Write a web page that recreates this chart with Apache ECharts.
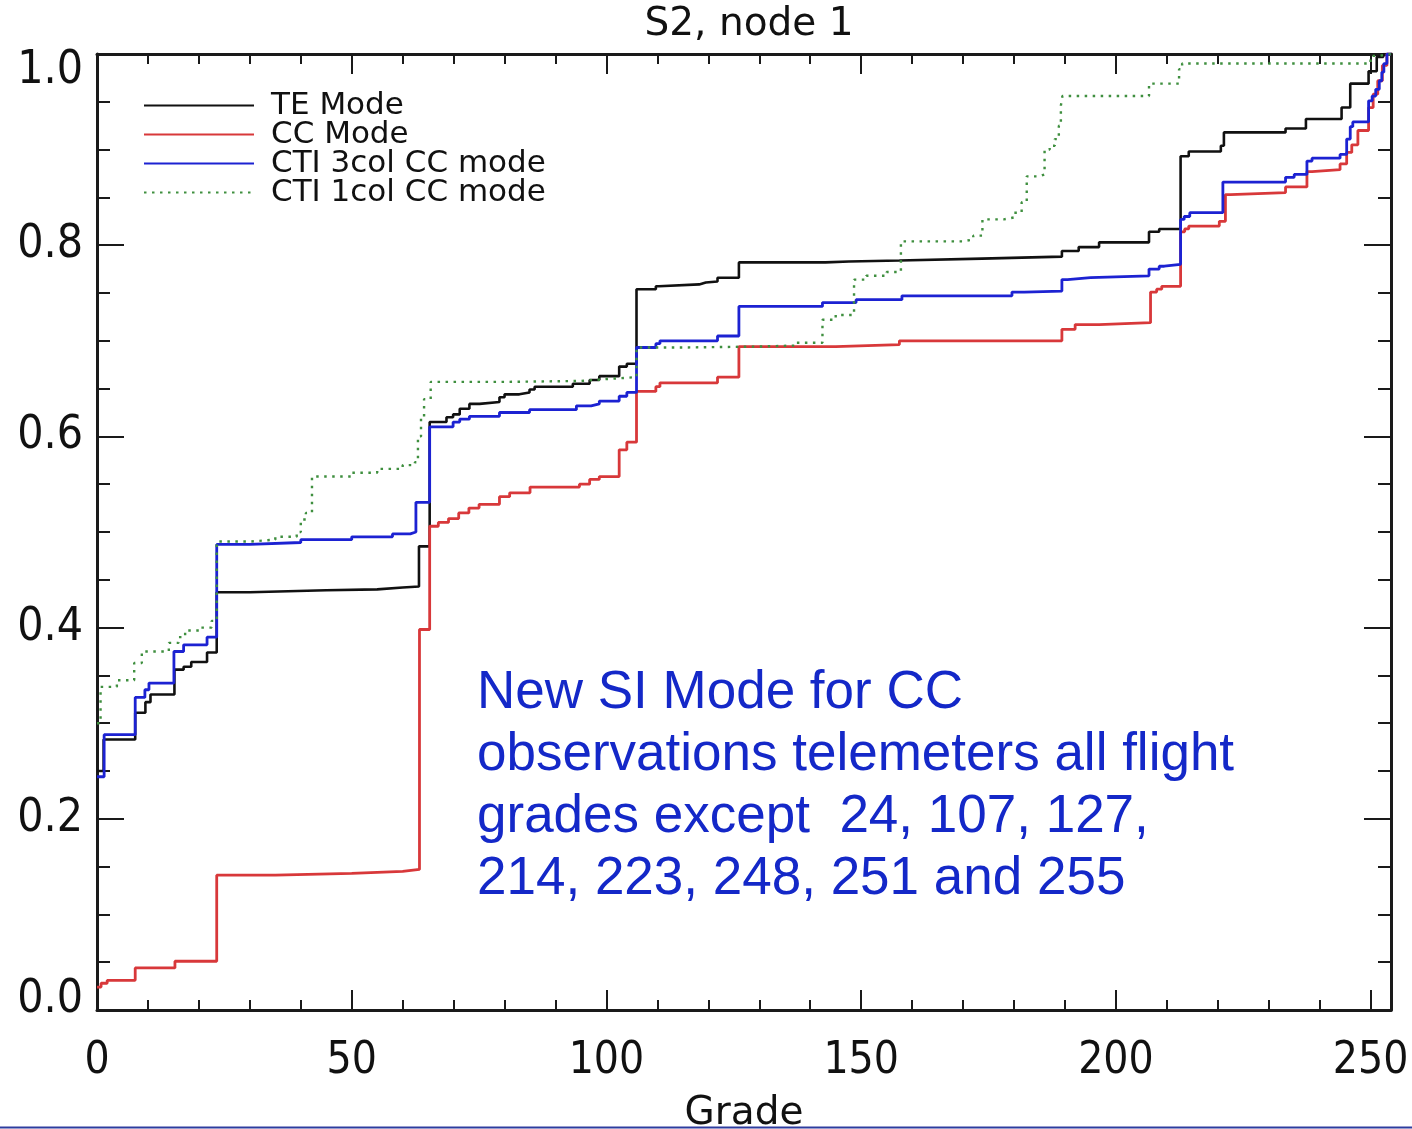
<!DOCTYPE html>
<html>
<head>
<meta charset="utf-8">
<script src="https://cdn.jsdelivr.net/npm/echarts@6/dist/echarts.min.js"></script>
<style>
  html, body { margin: 0; padding: 0; background: #fff; }
  #chart { width: 1412px; height: 1129px; }
</style>
</head>
<body>
<div id="chart"></div>
<script>
// Cumulative fraction of events vs. grade, S2 node 1. Each entry: [grade, cumulative fraction].
const teMode = [[0,0.25],[1.3,0.283],[7.5,0.311],[9.5,0.322],[10.5,0.33],[15.2,0.356],[17,0.359],[18.5,0.364],[21.6,0.374],[23.5,0.437],[30,0.439],[45,0.44],[55,0.442],[60,0.443],[63.2,0.485],[65.3,0.615],[68.6,0.62],[69.9,0.623],[71.2,0.629],[73.1,0.634],[75.1,0.636],[79,0.641],[80,0.644],[82.9,0.646],[84.9,0.649],[85.9,0.652],[93.4,0.655],[96.7,0.659],[98.6,0.663],[102.5,0.673],[104,0.676],[105.9,0.754],[109.7,0.757],[110.3,0.759],[118.2,0.761],[119.5,0.762],[121.8,0.766],[126,0.782],[143,0.783],[147.6,0.784],[157.5,0.786],[173.7,0.788],[189.4,0.794],[192.7,0.798],[196.7,0.803],[206.5,0.814],[208.5,0.817],[212.7,0.893],[214.3,0.898],[220.6,0.904],[221.2,0.918],[233.3,0.922],[237.3,0.932],[244.3,0.944],[246,0.969],[249.6,0.982],[251.2,0.997],[252.5,1.0],[254,1.0]];

const ccMode = [[0,0.024],[0.8,0.028],[2,0.031],[7.5,0.044],[15.3,0.051],[23.5,0.141],[35,0.143],[50,0.145],[60,0.147],[63.3,0.398],[65.3,0.506],[67,0.51],[69,0.514],[71,0.52],[73,0.525],[75,0.529],[79,0.537],[81,0.541],[85,0.547],[94.7,0.55],[96.7,0.555],[98.6,0.558],[102.5,0.586],[104,0.594],[105.9,0.647],[109.7,0.652],[110.5,0.656],[121.8,0.662],[126,0.694],[145,0.696],[157.5,0.7],[189.4,0.712],[192,0.717],[196.7,0.719],[206.8,0.751],[208,0.754],[209,0.757],[212.7,0.814],[213.5,0.817],[214.3,0.82],[220.3,0.825],[221.5,0.853],[222.5,0.855],[233.3,0.861],[237.5,0.877],[238.5,0.879],[244,0.885],[245.3,0.897],[246.3,0.905],[247.5,0.92],[249.6,0.944],[250.5,0.958],[251.4,0.972],[252.3,0.988],[253.2,1.0],[254,1.0]];

const cti3col = [[0,0.244],[1.4,0.288],[7.5,0.327],[9.4,0.335],[10.2,0.342],[15.1,0.375],[17,0.382],[21.6,0.39],[23.5,0.487],[30,0.489],[40,0.492],[50,0.495],[58,0.498],[61.5,0.5],[62.6,0.531],[65.3,0.61],[69.9,0.615],[71.2,0.618],[73.1,0.621],[79,0.625],[84.9,0.628],[94.1,0.632],[97,0.634],[98.6,0.637],[102.5,0.642],[104,0.646],[105.9,0.693],[109.7,0.697],[110.5,0.7],[121.8,0.705],[126,0.736],[142.4,0.74],[149,0.743],[158,0.747],[179.6,0.751],[182,0.752],[189.4,0.764],[190.5,0.766],[195,0.768],[206.5,0.775],[208.5,0.778],[209.5,0.78],[212.7,0.827],[213.4,0.83],[214.5,0.834],[221,0.866],[233.3,0.871],[235,0.874],[237.5,0.888],[238.5,0.891],[244,0.895],[245.3,0.911],[246,0.924],[246.5,0.929],[249.6,0.951],[250.3,0.956],[251,0.963],[251.7,0.972],[252.2,0.981],[252.6,0.99],[253.2,1.0],[254,1.0]];

const cti1col = [[0,0.30],[0.7,0.338],[3.9,0.345],[7.3,0.363],[8.8,0.375],[14.1,0.384],[16,0.39],[17.3,0.397],[20,0.40],[22.5,0.407],[23.5,0.49],[30,0.492],[35,0.495],[39.2,0.50],[40,0.513],[41,0.52],[42.2,0.558],[50,0.562],[55,0.566],[60,0.57],[62.4,0.573],[63,0.6],[63.6,0.62],[64.2,0.639],[65.5,0.657],[80,0.658],[95,0.66],[100,0.662],[105.9,0.693],[115,0.694],[130,0.695],[137,0.698],[142.4,0.722],[145,0.727],[148.6,0.764],[151,0.768],[155,0.772],[157.8,0.804],[170,0.806],[172,0.81],[173.8,0.827],[178,0.829],[180,0.834],[181.5,0.845],[182.5,0.872],[185,0.874],[186,0.9],[187,0.904],[188,0.911],[188.8,0.925],[189.2,0.946],[189.5,0.956],[206.5,0.969],[212.4,0.984],[213,0.99],[249.5,0.993],[250.3,0.998],[251.5,1.0],[254,1.0]];

const seriesNames = ['TE Mode', 'CC Mode', 'CTI 3col CC mode', 'CTI 1col CC mode'];
const xMajorTicks = [0, 50, 100, 150, 200, 250];
const xMinorTicks = [10, 20, 30, 40, 60, 70, 80, 90, 110, 120, 130, 140, 160, 170, 180, 190, 210, 220, 230, 240];
const noteLines = [
  'New SI Mode for CC',
  'observations telemeters all flight',
  'grades except  24, 107, 127,',
  '214, 223, 248, 251 and 255'
];

const TICK_FONT = "'DejaVu Sans Condensed', 'DejaVu Sans', sans-serif";
const TEXT_FONT = "'DejaVu Sans', sans-serif";
const axisColor = '#1a1a1a';
const X_MIN = 0, X_MAX = 254;

function xAxisDef(position, values, tickLen, showLine, showLabel) {
  return {
    type: 'value', position: position, min: X_MIN, max: X_MAX, interval: 50,
    axisLine: { show: showLine, onZero: false, lineStyle: { color: axisColor, width: 3 } },
    axisTick: { show: true, inside: true, length: tickLen, customValues: values,
                lineStyle: { color: axisColor, width: 2 } },
    axisLabel: showLabel ? { show: true, customValues: values, margin: 30,
                fontSize: 44, color: '#111', fontFamily: TICK_FONT } : { show: false },
    splitLine: { show: false }
  };
}

function yAxisDef(position, showLabel) {
  return {
    type: 'value', position: position, min: 0, max: 1, interval: 0.2,
    axisLine: { show: true, onZero: false, lineStyle: { color: axisColor, width: 3 } },
    axisTick: { show: true, inside: true, length: 27, lineStyle: { color: axisColor, width: 2 } },
    minorTick: { show: true, splitNumber: 4, length: 13, lineStyle: { color: axisColor, width: 2 } },
    axisLabel: showLabel ? {
      show: true, margin: 14, fontSize: 46, color: '#111', fontFamily: TICK_FONT,
      formatter: function (v) {
        if (v === 1) return '{hi|1.0}';
        if (v === 0) return '{lo|0.0}';
        return v.toFixed(1);
      },
      rich: {
        hi: { fontSize: 46, fontFamily: TICK_FONT, color: '#111', padding: [34, 0, 0, 0] },
        lo: { fontSize: 46, fontFamily: TICK_FONT, color: '#111', padding: [0, 0, 20, 0] }
      }
    } : { show: false },
    splitLine: { show: false }
  };
}

function stepSeries(name, data, color, lineType, width) {
  return {
    name: name, type: 'line', step: 'end', data: data,
    xAxisIndex: 0, yAxisIndex: 0,
    symbol: 'none', showSymbol: false, silent: true, animation: false,
    lineStyle: { color: color, width: width, type: lineType },
    itemStyle: { color: color }
  };
}

const chart = echarts.init(document.getElementById('chart'), null, { renderer: 'canvas' });

const xBottom = xAxisDef('bottom', xMajorTicks, 20, true, true);
xBottom.name = 'Grade';
xBottom.nameLocation = 'middle';
xBottom.nameGap = 84;
xBottom.nameTextStyle = { fontSize: 39, color: '#111', fontFamily: TEXT_FONT };

chart.setOption({
  backgroundColor: '#ffffff',
  animation: false,
  title: {
    text: 'S2, node 1', left: 744, top: 0, textAlign: 'center',
    textStyle: { fontSize: 39, fontWeight: 'normal', color: '#111', fontFamily: TEXT_FONT }
  },
  legend: {
    orient: 'vertical', left: 143, top: 90, padding: 0,
    itemWidth: 110, itemHeight: 14, itemGap: -2,
    data: seriesNames,
    itemStyle: { opacity: 0 },
    textStyle: { fontSize: 31, lineHeight: 29, color: '#111', fontFamily: TEXT_FONT,
                 padding: [0, 0, 0, 12] }
  },
  grid: { left: 97, right: 21, top: 54, bottom: 119, containLabel: false, outerBoundsMode: 'none' },
  xAxis: [
    xBottom,
    xAxisDef('bottom', xMinorTicks, 10, false, false),
    xAxisDef('top', xMajorTicks, 20, true, false),
    xAxisDef('top', xMinorTicks, 10, false, false)
  ],
  yAxis: [
    yAxisDef('left', true),
    yAxisDef('right', false)
  ],
  series: [
    stepSeries(seriesNames[0], teMode, '#111111', 'solid', 2.6),
    stepSeries(seriesNames[1], ccMode, '#d8383a', 'solid', 2.8),
    stepSeries(seriesNames[2], cti3col, '#1c22d2', 'solid', 2.8),
    stepSeries(seriesNames[3], cti1col, '#3f8f3f', [2.5, 5.5], 2.4)
  ],
  graphic: [
    {
      type: 'text', left: 477, top: 662, silent: true,
      style: {
        text: noteLines.join('\n'),
        fontSize: 53, lineHeight: 62,
        fontFamily: "'Liberation Sans', Arial, sans-serif",
        fill: '#1428c8'
      }
    },
    {
      type: 'line', silent: true,
      shape: { x1: 0, y1: 1127.5, x2: 1412, y2: 1127.5 },
      style: { stroke: '#2e3c9e', lineWidth: 2 }
    }
  ]
});
</script>
</body>
</html>
